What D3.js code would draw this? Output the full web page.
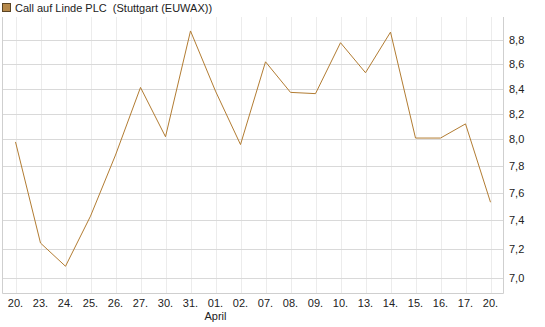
<!DOCTYPE html>
<html lang="en">
<head>
    <meta charset="UTF-8">
    <title>Call auf Linde PLC</title>
    <script src="https://d3js.org/d3.v7.min.js"></script>
    <style>
        body { margin: 0; background: #fff; }
        text { font-family: "Liberation Sans", Arial, sans-serif; font-size: 11px; fill: #222; }
        .title { white-space: pre; }
        .grid-x line { stroke: #ececec; stroke-width: 1px; }
        .grid-y line { stroke: #d9d9d9; stroke-width: 1px; }
        .frame { stroke: #cfcfcf; stroke-width: 1px; fill: none; }
        .line { fill: none; stroke: #b27c32; stroke-width: 1px; }
    </style>
</head>
<body>
    <div id="chart"></div>
    <script>
        // Data
        const dayLabels = ["20.", "23.", "24.", "25.", "26.", "27.", "30.", "31.", "01.", "02.",
                           "07.", "08.", "09.", "10.", "13.", "14.", "15.", "16.", "17.", "20."];
        const prices = [7.98, 7.24, 7.08, 7.43, 7.88, 8.41, 8.02, 8.88, 8.38, 7.96,
                        8.62, 8.37, 8.36, 8.78, 8.53, 8.87, 8.01, 8.01, 8.12, 7.53];
        const yTicks = [7.0, 7.2, 7.4, 7.6, 7.8, 8.0, 8.2, 8.4, 8.6, 8.8];
        const monthLabel = { index: 8, text: "April" };
        const title = "Call auf Linde PLC  (Stuttgart (EUWAX))";

        const W = 545, H = 327;
        const plot = { left: 3, right: 503, top: 17, bottom: 293 };

        const svg = d3.select("#chart")
                      .append("svg")
                      .attr("width", W)
                      .attr("height", H);

        const keys = dayLabels.map((d, i) => i);

        const x = d3.scalePoint()
                    .domain(keys)
                    .range([plot.left, plot.right])
                    .padding(0.5);

        const y = d3.scaleLog()
                    .domain([6.9, 9.0])
                    .range([plot.bottom, plot.top]);

        // vertical grid
        svg.append("g")
           .attr("class", "grid-x")
           .selectAll("line")
           .data(keys)
           .join("line")
           .attr("x1", d => Math.round(x(d)) + 0.5)
           .attr("x2", d => Math.round(x(d)) + 0.5)
           .attr("y1", plot.top)
           .attr("y2", plot.bottom);

        // horizontal grid
        svg.append("g")
           .attr("class", "grid-y")
           .selectAll("line")
           .data(yTicks)
           .join("line")
           .attr("x1", plot.left)
           .attr("x2", plot.right)
           .attr("y1", d => Math.round(y(d)) + 0.5)
           .attr("y2", d => Math.round(y(d)) + 0.5);

        // frame: left, bottom, right
        svg.append("path")
           .attr("class", "frame")
           .attr("d", `M${plot.left - 0.5},${plot.top} V${plot.bottom + 0.5} H${plot.right + 0.5} V${plot.top}`);

        // price line
        const line = d3.line()
                       .x((d, i) => x(i))
                       .y(d => y(d));

        svg.append("path")
           .datum(prices)
           .attr("class", "line")
           .attr("d", line);

        // y labels on the right
        svg.append("g")
           .selectAll("text")
           .data(yTicks)
           .join("text")
           .attr("x", plot.right + 6)
           .attr("y", d => y(d) + 4)
           .text(d => d3.format(".1f")(d).replace(".", ","));

        // x labels
        svg.append("g")
           .selectAll("text")
           .data(keys)
           .join("text")
           .attr("x", d => x(d))
           .attr("y", plot.bottom + 14)
           .attr("text-anchor", "middle")
           .text(d => dayLabels[d]);

        svg.append("text")
           .attr("x", x(monthLabel.index))
           .attr("y", plot.bottom + 27)
           .attr("text-anchor", "middle")
           .text(monthLabel.text);

        // legend / title
        svg.append("rect")
           .attr("x", 2.5)
           .attr("y", 3.5)
           .attr("width", 8)
           .attr("height", 8)
           .attr("fill", "#b5884a")
           .attr("stroke", "#5a4424")
           .attr("stroke-width", 1);

        svg.append("text")
           .attr("class", "title")
           .attr("x", 15)
           .attr("y", 12)
           .text(title);
    </script>
</body>
</html>
